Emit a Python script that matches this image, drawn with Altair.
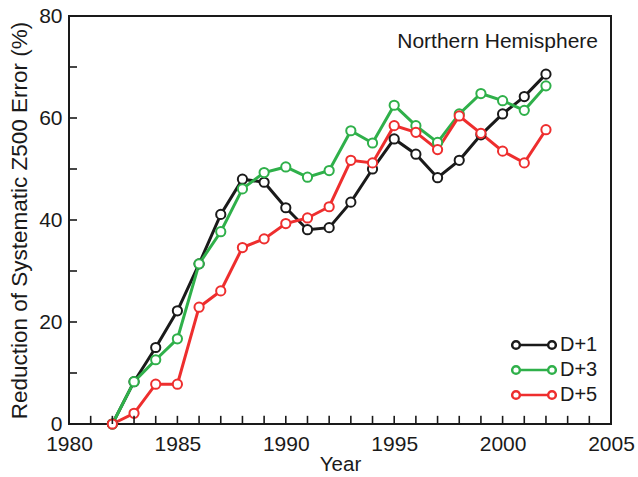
import altair as alt
import pandas as pd

# Reduction of systematic Z500 error, Northern Hemisphere, by forecast day
years = list(range(1982, 2003))
d1 = [0, 8.3, 15.0, 22.2, 31.4, 41.1, 48.0, 47.4, 42.4, 38.1, 38.5,
      43.5, 50.0, 55.9, 52.9, 48.3, 51.7, 56.7, 60.8, 64.2, 68.6]
d3 = [0, 8.3, 12.6, 16.7, 31.4, 37.7, 46.1, 49.3, 50.4, 48.4, 49.7,
      57.5, 55.1, 62.5, 58.5, 55.2, 60.8, 64.8, 63.4, 61.5, 66.3]
d5 = [0, 2.1, 7.8, 7.8, 22.9, 26.1, 34.6, 36.3, 39.3, 40.4, 42.6,
      51.7, 51.2, 58.5, 57.2, 53.8, 60.4, 57.0, 53.5, 51.2, 57.7]

series_names = ["D+1", "D+3", "D+5"]
series_colors = ["#1a1a1a", "#2fb04a", "#ee2e2e"]

x_ticks = list(range(1980, 2006))
y_ticks = list(range(0, 81, 10))

rows = []
for name, vals in zip(series_names, [d1, d3, d5]):
    for yr, v in zip(years, vals):
        rows.append({"year": yr, "value": v, "series": name})
df = pd.DataFrame(rows)

FONT = "Liberation Sans"
W, H = 542, 408

x_scale = alt.Scale(domain=[1980, 2005], nice=False, zero=False)
y_scale = alt.Scale(domain=[0, 80], nice=False)

stroke_scale = alt.Scale(domain=series_names, range=series_colors)

# line with two open circles, used as the legend glyph
legend_path = ("M-4.04,0L4.04,0"
               "M-4.04,0A1.1,1.1,0,1,1,-6.24,0A1.1,1.1,0,1,1,-4.04,0"
               "M6.24,0A1.1,1.1,0,1,1,4.04,0A1.1,1.1,0,1,1,6.24,0")

x_enc = alt.X("year:Q", scale=x_scale,
              axis=alt.Axis(title="Year", values=list(range(1980, 2006, 5)),
                            format="d", tickSize=0, labelPadding=9,
                            labelFlush=False, titlePadding=0,
                            titleFontSize=20.5, grid=False))
y_enc = alt.Y("value:Q", scale=y_scale,
              axis=alt.Axis(title="Reduction of Systematic Z500 Error (%)",
                            values=list(range(0, 81, 20)), tickSize=0,
                            labelFlush=False, labelPadding=7,
                            titlePadding=7, titleFontSize=22.5, grid=False))

lines = alt.Chart(df).mark_line(strokeWidth=3).encode(
    x=x_enc, y=y_enc,
    stroke=alt.Stroke("series:N", scale=stroke_scale,
                      sort=series_names,
                      legend=alt.Legend(title=None, orient="none",
                                        legendX=455, legendY=319,
                                        symbolType=legend_path,
                                        symbolSize=49,
                                        symbolStrokeWidth=2.5,
                                        symbolFillColor="white",
                                        labelOffset=16, rowPadding=5,
                                        labelFontSize=20, labelFont=FONT,
                                        labelColor="#1a1a1a")),
    order=alt.Order("year:Q"),
)

points = alt.Chart(df).mark_point(filled=True, fill="white", size=85,
                                  strokeWidth=2, opacity=1).encode(
    x="year:Q", y="value:Q",
    stroke=alt.Stroke("series:N", scale=stroke_scale, sort=series_names),
)

# inward-pointing axis ticks (about 8 px long)
xt = alt.Chart(pd.DataFrame({"t": x_ticks, "t0": 0.0, "t1": 1.6})).mark_rule(
    strokeWidth=1.6, color="#1a1a1a"
).encode(x="t:Q", y="t0:Q", y2="t1:Q")

yt = alt.Chart(pd.DataFrame({"t": y_ticks, "s0": 1980.0, "s1": 1980.37})).mark_rule(
    strokeWidth=1.6, color="#1a1a1a"
).encode(y="t:Q", x="s0:Q", x2="s1:Q")

label = alt.Chart(pd.DataFrame({"txt": ["Northern Hemisphere"]})).mark_text(
    align="right", baseline="middle", font=FONT, fontSize=21, color="#1a1a1a"
).encode(x=alt.value(W - 13), y=alt.value(26), text="txt:N")

chart = alt.layer(lines, points, xt, yt, label).properties(
    width=W, height=H,
    background="white",
    autosize=alt.AutoSizeParams(type="none"),
    padding={"left": 69, "top": 16, "right": 27, "bottom": 53},
).configure_view(
    stroke="#1a1a1a", strokeWidth=2
).configure_axis(
    domain=False, labelFont=FONT, titleFont=FONT, labelFontSize=21,
    titleFontWeight="normal", labelColor="#1a1a1a", titleColor="#1a1a1a"
)

chart.save("out.html", embed_options={"renderer": "svg", "actions": False})
